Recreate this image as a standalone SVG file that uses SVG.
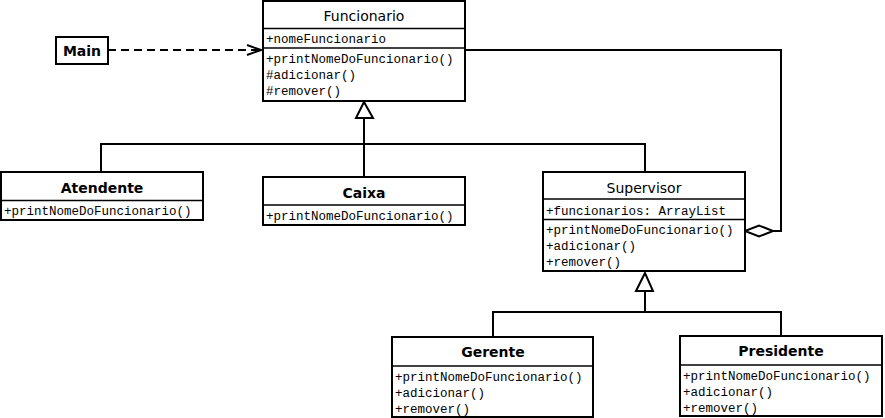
<svg xmlns="http://www.w3.org/2000/svg" width="885" height="418" viewBox="0 0 885 418">
<style>
.box{fill:#fff;stroke:#000;stroke-width:2}
.sep{stroke:#000;stroke-width:1.5}
.t{font-family:"DejaVu Sans",sans-serif;font-size:14px;text-anchor:middle;fill:#000}
.b{font-weight:bold}
.m{font-family:"Liberation Mono","Courier New",monospace;font-size:12.5px;fill:#000}
.ln{fill:none;stroke:#000;stroke-width:2}
</style>
<defs>
<marker id="open" markerWidth="16" markerHeight="12" refX="15" refY="6" orient="auto" markerUnits="userSpaceOnUse">
<path d="M1,1 L15,6 L1,11" fill="none" stroke="#000" stroke-width="2"/>
</marker>
</defs>
<g id="connectors">
<path class="ln" d="M108,50 L261,50" stroke-dasharray="8,5" marker-end="url(#open)"/>
<path class="ln" d="M364,118 L364,177"/>
<path class="ln" d="M101,172 L101,144 L645,144 L645,172"/>
<polygon points="364,102 356,118 373,118" fill="#fff" stroke="#000" stroke-width="2"/>
<path class="ln" d="M465,50 L781,50 L781,231 L773,231"/>
<polygon points="745,231 759,225.5 773,231 759,236.5" fill="#fff" stroke="#000" stroke-width="2"/>
<path class="ln" d="M645,291 L645,312"/>
<path class="ln" d="M493,337 L493,312 L781,312 L781,336"/>
<polygon points="645,273 636,291 653,291" fill="#fff" stroke="#000" stroke-width="2"/>
</g>
<g id="main">
<rect class="box" x="56" y="37" width="52" height="27"/>
<text class="t b" x="82" y="55.5">Main</text>
</g>
<g id="funcionario">
<rect class="box" x="263" y="1" width="202" height="100"/>
<line class="sep" x1="263" y1="28.5" x2="465" y2="28.5"/>
<line class="sep" x1="263" y1="48" x2="465" y2="48"/>
<text class="t" x="364" y="21">Funcionario</text>
<text class="m" x="266" y="43">+nomeFuncionario</text>
<text class="m" x="266" y="63">+printNomeDoFuncionario()</text>
<text class="m" x="266" y="79">#adicionar()</text>
<text class="m" x="266" y="95">#remover()</text>
</g>
<g id="atendente">
<rect class="box" x="1" y="172" width="202" height="48"/>
<line class="sep" x1="1" y1="200.5" x2="203" y2="200.5"/>
<text class="t b" x="102" y="193">Atendente</text>
<text class="m" x="4" y="215">+printNomeDoFuncionario()</text>
</g>
<g id="caixa">
<rect class="box" x="263" y="177" width="202" height="48"/>
<line class="sep" x1="263" y1="205" x2="465" y2="205"/>
<text class="t b" x="364" y="198">Caixa</text>
<text class="m" x="266" y="220">+printNomeDoFuncionario()</text>
</g>
<g id="supervisor">
<rect class="box" x="543" y="172" width="202" height="99"/>
<line class="sep" x1="543" y1="199" x2="745" y2="199"/>
<line class="sep" x1="543" y1="219.5" x2="745" y2="219.5"/>
<text class="t" x="644" y="193">Supervisor</text>
<text class="m" x="546" y="215">+funcionarios: ArrayList</text>
<text class="m" x="546" y="234">+printNomeDoFuncionario()</text>
<text class="m" x="546" y="250">+adicionar()</text>
<text class="m" x="546" y="266">+remover()</text>
</g>
<g id="gerente">
<rect class="box" x="392" y="337" width="201" height="80"/>
<line class="sep" x1="392" y1="366" x2="593" y2="366"/>
<text class="t b" x="493" y="357">Gerente</text>
<text class="m" x="395" y="381">+printNomeDoFuncionario()</text>
<text class="m" x="395" y="397">+adicionar()</text>
<text class="m" x="395" y="413">+remover()</text>
</g>
<g id="presidente">
<rect class="box" x="680" y="336" width="202" height="80"/>
<line class="sep" x1="680" y1="365" x2="882" y2="365"/>
<text class="t b" x="781" y="356">Presidente</text>
<text class="m" x="683" y="380">+printNomeDoFuncionario()</text>
<text class="m" x="683" y="396">+adicionar()</text>
<text class="m" x="683" y="412">+remover()</text>
</g>
</svg>
